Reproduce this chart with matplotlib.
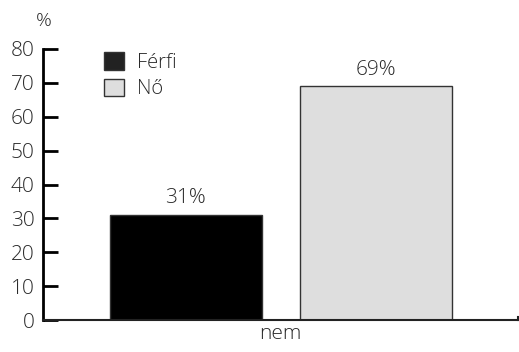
import matplotlib
matplotlib.use("Agg")
import matplotlib.pyplot as plt
from matplotlib.patches import Patch

categories = ["Férfi", "Nő"]
values = [31, 69]
labels = ["31%", "69%"]
colors = ["#000000", "#dedede"]
yticks = [0, 10, 20, 30, 40, 50, 60, 70, 80]

plt.rcParams["font.family"] = ["Open Sans", "DejaVu Sans"]
plt.rcParams["font.weight"] = "light"
txt = "#2a2a2a"

fig = plt.figure(figsize=(5.19, 3.52), dpi=100)
ax = fig.add_axes([43 / 519, 32 / 352, 475 / 519, 271 / 352])

x = range(len(values))
ax.bar(x, values, width=0.8, color=colors, edgecolor="#333333", linewidth=1.0)
for xi, v, lab in zip(x, values, labels):
    ax.text(xi, v + 3.4, lab, ha="center", va="baseline", fontsize=15, color=txt,
            fontweight="light")

ax.set_xlim(-0.75, 1.75)
ax.set_ylim(0, 80)
ax.set_yticks(yticks)
ax.set_xticks([])
ax.tick_params(axis="y", direction="in", length=11, width=2, colors="black",
               labelcolor=txt, labelsize=15, pad=6)
for s in ["top", "right"]:
    ax.spines[s].set_visible(False)
ax.spines["left"].set_linewidth(2)
ax.spines["bottom"].set_linewidth(1.5)
ax.spines["bottom"].set_color("#222222")
ax.plot([1.75, 1.75], [0, 1.0], color="#222222", lw=1.5, clip_on=False)

ax.set_xlabel("nem", fontsize=15, color=txt, labelpad=3, fontweight="light")
fig.text(43.5 / 519, 1 - 20.5 / 352, "%", ha="center", va="center", fontsize=14,
         color=txt, fontweight="light")

handles = [Patch(facecolor="#222222", edgecolor="#333333"),
           Patch(facecolor="#dedede", edgecolor="#333333")]
ax.legend(handles, categories, loc="upper left", bbox_to_anchor=(0.091, 1.055),
          frameon=False, handlelength=1.0, handleheight=0.95,
          handletextpad=0.6, labelspacing=0.3, labelcolor=txt,
          prop={"weight": "light", "size": 14.5})

fig.savefig("out.png", dpi=100)
